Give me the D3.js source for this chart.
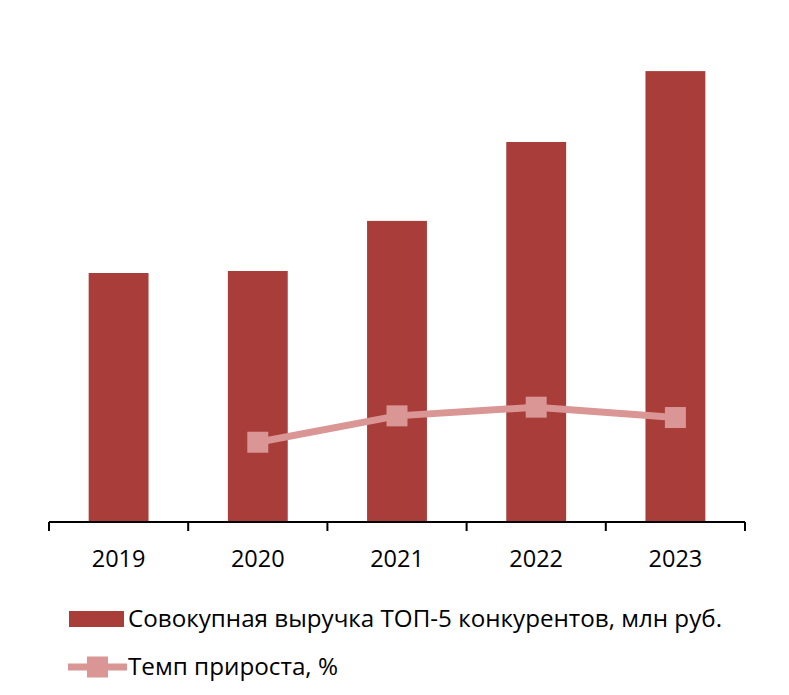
<!DOCTYPE html>
<html>
<head>
<meta charset="utf-8">
<script src="https://cdn.jsdelivr.net/npm/d3@7"></script>
<style>
  body { margin: 0; background: #fff; }
  text { font-family: "Open Sans", Lato, sans-serif; fill: #000; }
</style>
</head>
<body>
<div id="chart"></div>
<script>
// Data (no value axis, so the scale is estimated)
const years = ["2019", "2020", "2021", "2022", "2023"];
const revenue = [4970, 5010, 6010, 7585, 9000];        // млн руб.
const growth = [null, 0.8, 19.9, 26.2, 18.7];          // %
const seriesNames = ["Совокупная выручка ТОП-5 конкурентов, млн руб.", "Темп прироста, %"];

const width = 789;
const height = 695;
const barColor = "#a83d3a";
const lineColor = "#d99694";

const margin = { top: 21, left: 49, right: 44, bottom: 173 };
const baseY = height - margin.bottom;

const svg = d3.select("#chart")
    .append("svg")
    .attr("width", width)
    .attr("height", height);

svg.append("rect")
    .attr("width", width)
    .attr("height", height)
    .attr("fill", "#fff");

// Scales
const x = d3.scaleBand()
    .domain(years)
    .range([margin.left, width - margin.right])
    .paddingInner(0.57)
    .paddingOuter(0.285);

const y = d3.scaleLinear()
    .domain([0, 10000])
    .range([baseY, margin.top]);

// secondary (hidden) axis for the growth line
const y2 = d3.scaleLinear()
    .domain([-57, 306])
    .range([baseY, margin.top]);

// Bars
svg.selectAll(".bar")
    .data(years)
    .enter()
    .append("rect")
    .attr("class", "bar")
    .attr("x", d => x(d))
    .attr("width", x.bandwidth())
    .attr("y", (d, i) => y(revenue[i]))
    .attr("height", (d, i) => baseY - y(revenue[i]))
    .attr("fill", barColor);

// X axis with ticks between categories
const xAxis = svg.append("g")
    .attr("transform", `translate(0,${baseY})`);

xAxis.append("line")
    .attr("x1", margin.left)
    .attr("x2", width - margin.right)
    .attr("stroke", "#000")
    .attr("stroke-width", 2);

const step = x.step();
const tickXs = d3.range(years.length + 1).map(i => margin.left + i * step);
xAxis.selectAll(".tick")
    .data(tickXs)
    .enter()
    .append("line")
    .attr("x1", d => d)
    .attr("x2", d => d)
    .attr("y1", 0)
    .attr("y2", 9)
    .attr("stroke", "#000")
    .attr("stroke-width", 2);

xAxis.selectAll(".label")
    .data(years)
    .enter()
    .append("text")
    .attr("x", d => x(d) + x.bandwidth() / 2)
    .attr("y", 45)
    .attr("text-anchor", "middle")
    .style("font-size", "23.5px")
    .text(d => d);

// Growth line
const pts = years.map((d, i) => ({ year: d, v: growth[i] })).filter(p => p.v != null);

const line = d3.line()
    .x(d => x(d.year) + x.bandwidth() / 2)
    .y(d => y2(d.v));

svg.append("path")
    .datum(pts)
    .attr("d", line)
    .attr("fill", "none")
    .attr("stroke", lineColor)
    .attr("stroke-width", 7);

const mk = 21;
svg.selectAll(".marker")
    .data(pts)
    .enter()
    .append("rect")
    .attr("x", d => x(d.year) + x.bandwidth() / 2 - mk / 2)
    .attr("y", d => y2(d.v) - mk / 2)
    .attr("width", mk)
    .attr("height", mk)
    .attr("fill", lineColor);

// Legend
const legend = svg.append("g").attr("transform", "translate(68,0)");

legend.append("rect")
    .attr("x", 1)
    .attr("y", 611)
    .attr("width", 55)
    .attr("height", 16)
    .attr("fill", barColor);

legend.append("text")
    .attr("x", 60)
    .attr("y", 627)
    .attr("textLength", 594)
    .attr("lengthAdjust", "spacingAndGlyphs")
    .style("font-size", "23.5px")
    .text(seriesNames[0]);

legend.append("line")
    .attr("x1", 0)
    .attr("x2", 59)
    .attr("y1", 667)
    .attr("y2", 667)
    .attr("stroke", lineColor)
    .attr("stroke-width", 7);

legend.append("rect")
    .attr("x", 29.5 - mk / 2)
    .attr("y", 667 - mk / 2)
    .attr("width", mk)
    .attr("height", mk)
    .attr("fill", lineColor);

legend.append("text")
    .attr("x", 60)
    .attr("y", 675)
    .attr("textLength", 210)
    .attr("lengthAdjust", "spacingAndGlyphs")
    .style("font-size", "23.5px")
    .text(seriesNames[1]);
</script>
</body>
</html>
